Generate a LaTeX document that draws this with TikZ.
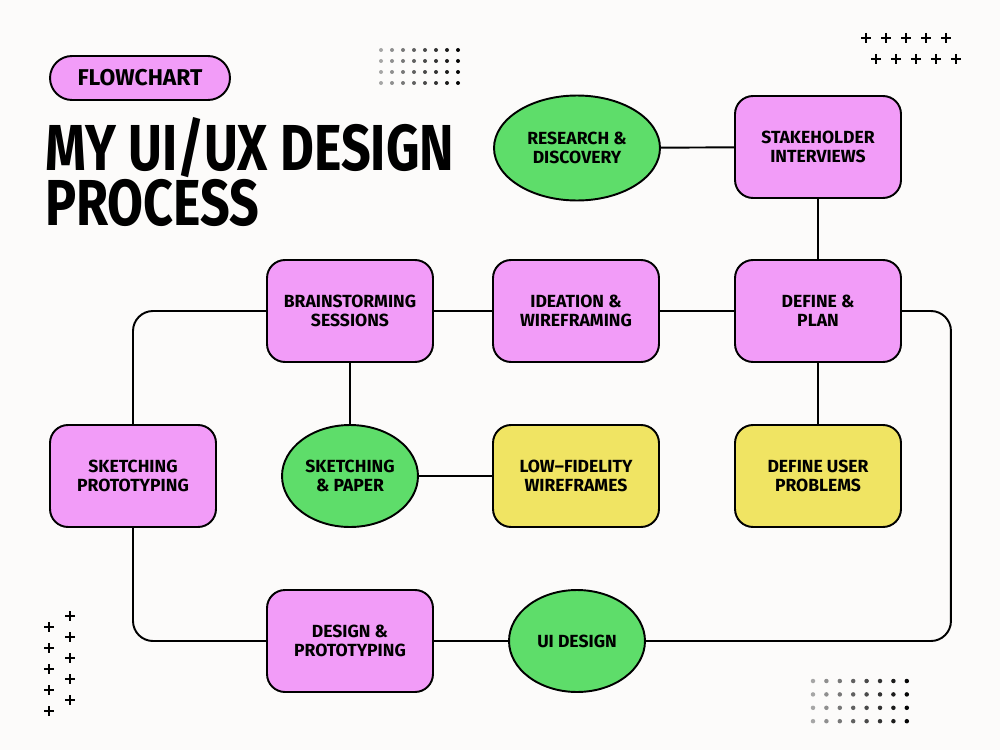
\documentclass[tikz,border=0pt]{standalone}
\usepackage{fontspec}
\setmainfont{Fira Sans}
\newfontfamily\headfont[FakeStretch=0.8]{Fira Sans}
\usetikzlibrary{positioning,shapes.geometric}
\definecolor{paper}{HTML}{FCFBFA}
\definecolor{pinkfill}{HTML}{F29CF8}
\definecolor{greenfill}{HTML}{5EDD6A}
\definecolor{yellowfill}{HTML}{F0E463}
\tikzset{
  stepbox/.style={draw, line width=1.1pt, rounded corners=0.36cm, fill=pinkfill,
              minimum width=3.32cm, minimum height=2.04cm, inner sep=0pt, align=center,
              font=\bfseries\fontsize{10}{10.8}\selectfont},
  notebox/.style={stepbox, fill=yellowfill},
  phase/.style={ellipse, draw, line width=1.1pt, fill=greenfill, inner sep=0pt,
              align=center, font=\bfseries\fontsize{10}{10.8}\selectfont},
  link/.style={line width=1.1pt, rounded corners=0.4cm},
  plusmark/.style={line width=1.3pt},
  headline/.style={anchor=base west, inner sep=0pt, text height=0.9cm, text depth=0.08cm,
              font=\headfont\bfseries\fontsize{37}{31}\selectfont},
}

\begin{document}
\begin{tikzpicture}[x=0.02cm, y=-0.02cm]
  \useasboundingbox[fill=paper] (0,0) rectangle (1000,750);

  % heading
  \node[draw, line width=1.1pt, fill=pinkfill, rounded corners=0.44cm,
        minimum width=3.6cm, minimum height=0.88cm,
        font=\bfseries\fontsize{13}{14}\selectfont] (tag) at (140,78) {FLOWCHART};
  \node[headline] (title1) at (45,170) {MY UI/UX DESIGN};
  \node[headline] (title2) at (45,225) {PROCESS};

  % decorations
  \foreach \i in {0,...,7}
    \foreach \j in {0,...,3} {
      \pgfmathtruncatemacro{\shade}{35+\i*9}
      \fill[black!\shade] (381+\i*11,50+\j*11) circle (0.04cm);
      \fill[black!\shade] (813+\i*13.4,681+\j*13.4) circle (0.045cm);
    }
  \foreach \k in {0,...,4} {
    \draw[plusmark] (861+\k*20,38) -- (871+\k*20,38) (866+\k*20,33) -- (866+\k*20,43);
    \draw[plusmark] (871+\k*20,59) -- (881+\k*20,59) (876+\k*20,54) -- (876+\k*20,64);
    \draw[plusmark] (44,627+\k*21) -- (54,627+\k*21) (49,622+\k*21) -- (49,632+\k*21);
    \draw[plusmark] (65,616+\k*21) -- (75,616+\k*21) (70,611+\k*21) -- (70,621+\k*21);
  }

  % steps
  \node[phase, minimum width=3.32cm, minimum height=2.1cm] (research) at (577,148) {RESEARCH \&\\DISCOVERY};
  \node[stepbox] (stake) at (818,147) {STAKEHOLDER\\INTERVIEWS};
  \node[stepbox] (define) at (818,311) {DEFINE \&\\PLAN};
  \node[stepbox] (ideate) at (576,311) {IDEATION \&\\WIREFRAMING};
  \node[stepbox] (brain) at (350,311) {BRAINSTORMING\\SESSIONS};
  \node[stepbox] (sketchproto) at (133,476) {SKETCHING\\PROTOTYPING};
  \node[phase, minimum width=2.72cm, minimum height=2.04cm] (paper) at (350,476) {SKETCHING\\\& PAPER};
  \node[notebox] (lowfi) at (576,476) {LOW--FIDELITY\\WIREFRAMES};
  \node[notebox] (problems) at (818,476) {DEFINE USER\\PROBLEMS};
  \node[stepbox] (designproto) at (350,641) {DESIGN \&\\PROTOTYPING};
  \node[phase, minimum width=2.72cm, minimum height=2.04cm] (uidesign) at (577,641) {UI DESIGN};

  % links
  \draw[link] (research) -- (stake);
  \draw[link] (stake) -- (define);
  \draw[link] (define) -- (ideate);
  \draw[link] (ideate) -- (brain);
  \draw[link] (define) -- (problems);
  \draw[link] (brain) -- (paper);
  \draw[link] (paper) -- (lowfi);
  \draw[link] (uidesign) -- (designproto);
  \draw[link] (brain.west) -| (sketchproto.north);
  \draw[link] (sketchproto.south) |- (designproto.west);
  \draw[link] (define.east) -- ++(49,0) |- (uidesign.east);
\end{tikzpicture}
\end{document}
